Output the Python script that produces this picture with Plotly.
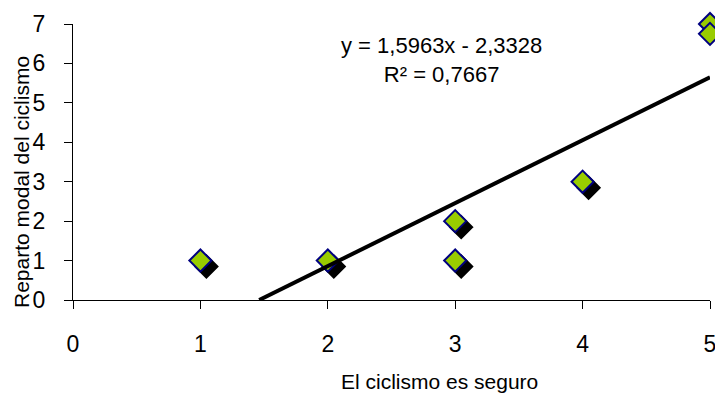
import plotly.graph_objects as go

x_vals = [1, 2, 3, 3, 4, 5, 5]
y_vals = [1, 1, 2, 1, 3, 7, 6.75]
slope = 1.5963
intercept = -2.3328
r2 = 0.7667
x_ticks = [0, 1, 2, 3, 4, 5]
y_ticks = [0, 1, 2, 3, 4, 5, 6, 7]

FONT = "Liberation Sans Narrow, Arial Narrow, Liberation Sans, Arial, sans-serif"
W, H = 715, 394
ml, mr, mt, mb = 73, 5, 24, 94
pw, ph = W - ml - mr, H - mt - mb
dx = 6 * 5 / pw  # shadow offset in data units
dy = 6 * 7 / ph

# trendline from the equation, clipped at y=0 like the source
x0 = -intercept / slope
x1 = 5
tx = [x0, x1]
ty = [slope * v + intercept for v in tx]

fig = go.Figure()
# invisible anchor trace for the main (visible) axes
fig.add_trace(go.Scatter(x=x_vals, y=y_vals, mode="markers", marker=dict(opacity=0),
                         hoverinfo="skip", showlegend=False))
# shadow layer
fig.add_trace(go.Scatter(x=x_vals, y=y_vals, mode="markers", xaxis="x2", yaxis="y2",
                         marker=dict(symbol="diamond", size=17, color="black",
                                     line=dict(color="black", width=2)),
                         cliponaxis=False, hoverinfo="skip", showlegend=False))
# markers
fig.add_trace(go.Scatter(x=x_vals, y=y_vals, mode="markers", xaxis="x3", yaxis="y3",
                         marker=dict(symbol="diamond", size=17, color="#99CC00",
                                     line=dict(color="#000080", width=2)),
                         cliponaxis=False, showlegend=False))
# trendline
fig.add_trace(go.Scatter(x=tx, y=ty, mode="lines", xaxis="x3", yaxis="y3",
                         line=dict(color="black", width=4), showlegend=False))

axis_common = dict(showgrid=False, zeroline=False, showline=True, linecolor="black",
                   linewidth=1, ticks="outside", ticklen=8, tickcolor="black",
                   ticklabeloverflow="allow", automargin=False,
                   tickfont=dict(family=FONT, size=23, color="black"))
fig.update_layout(
    width=W, height=H,
    margin=dict(l=ml, r=mr, t=mt, b=mb, autoexpand=False),
    paper_bgcolor="white", plot_bgcolor="white",
    xaxis=dict(range=[0, 5], tickvals=x_ticks, ticklabelstandoff=15, **axis_common),
    yaxis=dict(range=[0, 7], tickvals=y_ticks, ticklabelstandoff=14, **axis_common),
    xaxis2=dict(range=[0 - dx, 5 - dx], overlaying="x", visible=False),
    yaxis2=dict(range=[0 + dy, 7 + dy], overlaying="y", visible=False),
    xaxis3=dict(range=[0, 5], overlaying="x", visible=False),
    yaxis3=dict(range=[0, 7], overlaying="y", visible=False),
    font=dict(family=FONT, color="black"),
)
fig.add_annotation(xref="paper", yref="paper", x=(439 - ml) / pw, y=(H - mb - 381) / ph,
                   text="El ciclismo es seguro", showarrow=False,
                   font=dict(size=21), xanchor="center", yanchor="middle")
fig.add_annotation(xref="paper", yref="paper", x=(21 - ml) / pw, y=(H - mb - 182) / ph,
                   text="Reparto modal del ciclismo", showarrow=False, textangle=-90,
                   font=dict(size=21), xanchor="center", yanchor="middle")
fig.add_annotation(xref="paper", yref="paper", x=(441 - ml) / pw, y=(H - mb - 60) / ph,
                   text=f"y = {slope:.4f}x - {abs(intercept):.4f}".replace(".", ",") + "<br>" +
                        f"R² = {r2:.4f}".replace(".", ","),
                   showarrow=False, font=dict(size=22), xanchor="center", yanchor="middle",
                   align="center")

fig.write_html("out.html", config={"displayModeBar": False},
               post_script="document.body.style.margin='0';document.body.style.overflow='hidden';")
